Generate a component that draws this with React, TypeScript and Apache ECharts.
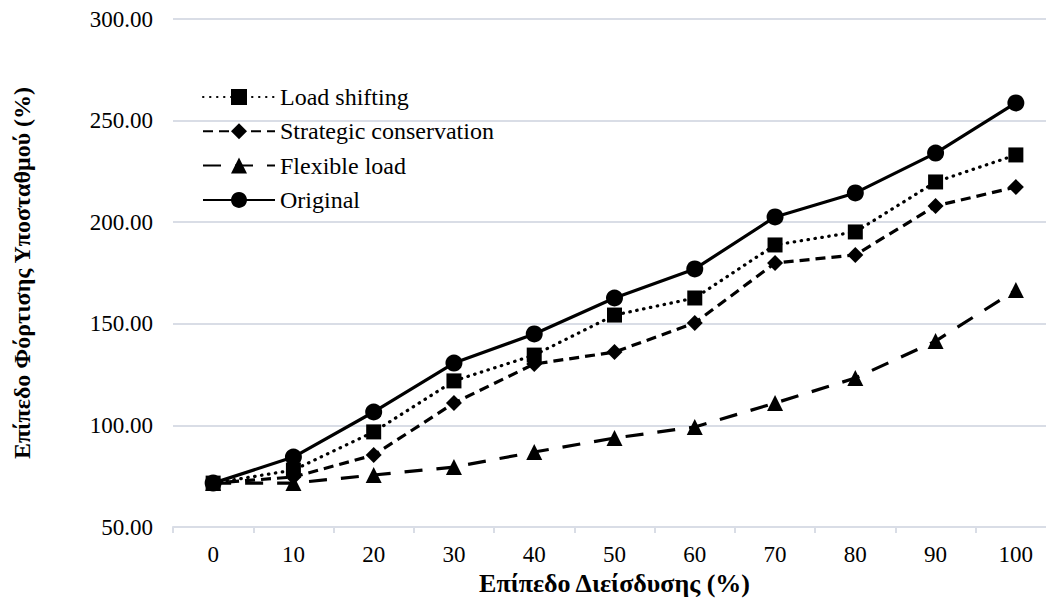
import React, { useEffect, useRef } from "react";
import * as echarts from "echarts";

const categories = ["0", "10", "20", "30", "40", "50", "60", "70", "80", "90", "100"];
const loadShifting = [71.6, 78.0, 96.8, 121.9, 134.6, 154.3, 162.7, 188.8, 195.2, 219.8, 233.1];
const strategicConservation = [71.6, 74.6, 85.4, 111.0, 130.2, 136.1, 150.4, 179.9, 183.9, 208.0, 217.3];
const flexibleLoad = [71.6, 71.6, 75.6, 79.5, 86.9, 93.8, 99.2, 111.0, 123.3, 141.5, 166.6];
const original = [71.6, 84.4, 106.6, 130.7, 145.0, 162.7, 177.0, 202.6, 214.4, 234.0, 258.7];

const xTitle = "Επίπεδο Διείσδυσης (%)";
const yTitle = "Επίπεδο Φόρτισης Υποσταθμού (%)";

const FONT = "Liberation Serif";

export default function App() {
  const ref = useRef<HTMLDivElement>(null);
  useEffect(() => {
    document.body.style.margin = "0";
    if (!ref.current) return;
    const chart = echarts.init(ref.current, undefined, { renderer: "svg" });
    const mk = (name: string, data: number[], symbol: string, size: number, type: any, cap: string) => ({
      name,
      type: "line",
      data,
      symbol,
      symbolSize: size,
      itemStyle: { color: "#000" },
      lineStyle: { color: "#000", width: 3.2, type, cap },
    });
    chart.setOption({
      animation: false,
      textStyle: { fontFamily: FONT },
      grid: { left: 173, right: 0, top: 19, bottom: 84 },
      legend: {
        orient: "vertical",
        left: 197,
        top: 80,
        itemWidth: 72,
        itemHeight: 20,
        itemGap: 10.3,
        textStyle: { fontFamily: FONT, fontSize: 24, color: "#000" },
        data: ["Load shifting", "Strategic conservation", "Flexible load", "Original"],
      },
      xAxis: {
        type: "category",
        data: categories,
        boundaryGap: true,
        axisLine: { lineStyle: { color: "#d9dde6", width: 2 } },
        axisTick: { show: true, length: 6, lineStyle: { color: "#d9dde6", width: 2 } },
        axisLabel: { fontFamily: FONT, fontSize: 23, color: "#000", margin: 16 },
        name: xTitle,
        nameLocation: "middle",
        nameGap: 40,
        nameTextStyle: { fontFamily: FONT, fontSize: 26, fontWeight: "bold", color: "#000" },
      },
      yAxis: {
        type: "value",
        min: 50,
        max: 300,
        interval: 50,
        axisLine: { show: false },
        axisTick: { show: false },
        splitLine: { lineStyle: { color: "#d9dde6", width: 2 } },
        axisLabel: {
          fontFamily: FONT,
          fontSize: 23,
          color: "#000",
          margin: 20,
          formatter: (v: number) => v.toFixed(2),
        },
        name: yTitle,
        nameLocation: "middle",
        nameGap: 139,
        nameTextStyle: { fontFamily: FONT, fontSize: 24, fontWeight: "bold", color: "#000" },
      },
      series: [
        mk("Load shifting", loadShifting, "rect", 15, [0.5, 6.5], "round"),
        mk("Strategic conservation", strategicConservation, "diamond", 16, [10, 6], "butt"),
        mk("Flexible load", flexibleLoad, "triangle", 16, [18, 14], "butt"),
        mk("Original", original, "circle", 17, "solid", "butt"),
      ],
    });
    return () => chart.dispose();
  }, []);
  return (
    <div style={{ width: 1046, height: 611, overflow: "hidden", background: "#fff" }}>
      <div ref={ref} style={{ width: 1056, height: 611 }} />
    </div>
  );
}
